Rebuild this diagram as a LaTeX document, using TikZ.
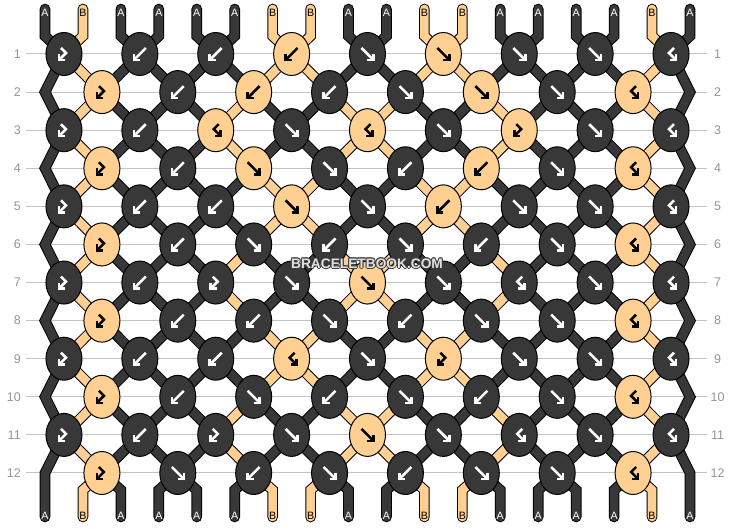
\documentclass[tikz,border=0pt]{standalone}
\usepackage{fontspec}
\setmainfont{Liberation Sans}
\usetikzlibrary{shapes.geometric}
\definecolor{colA}{RGB}{56,56,56}
\definecolor{colB}{RGB}{255,208,145}
\colorlet{arrA}{white}
\colorlet{arrB}{black}
\colorlet{labA}{white}
\colorlet{labB}{black}
\definecolor{gridc}{RGB}{195,195,195}
\definecolor{numc}{RGB}{150,150,150}
\definecolor{wmlight}{RGB}{225,225,225}
\definecolor{wmdark}{RGB}{60,60,60}
\def\stP{A,B,A,A,A,A,B,B,A,A,B,B,A,A,A,A,B,A}
\def\stQ{A,B,A,A,A,B,A,A,B,B,A,A,B,A,A,A,B,A}
\tikzset{
 strand/.style={draw=black, line width=0.75pt, double=#1, double distance=6.5pt, line cap=round, line join=miter},
 knot/.style={ellipse, draw=black, line width=0.75pt, minimum width=27pt, minimum height=32.25pt, inner sep=0pt},
 glyph/.style={line width=1.9pt, line cap=butt, line join=miter},
 rownum/.style={text=numc, font=\fontsize{9.4pt}{10pt}\selectfont, inner sep=0pt},
 strlab/.style={font=\fontsize{8pt}{9pt}\selectfont, inner sep=0pt},
 gridline/.style={draw=gridc, line width=0.75pt},
 wmtext/.style={font=\fontsize{10.3pt}{12pt}\selectfont\bfseries, inner sep=0pt}
}
\newcommand\kgF[1]{\draw[glyph,#1] (-6,-6) -- (5.5,5.5); \draw[glyph,#1] (0,6) -- (6,6) -- (6,0);}
\newcommand\kgB[1]{\draw[glyph,#1] (6,-6) -- (-5.5,5.5); \draw[glyph,#1] (0,6) -- (-6,6) -- (-6,0);}
\newcommand\kgFB[1]{\draw[glyph,#1] (-3,-6) -- (2,-1) -- (-5,6); \draw[glyph,#1] (-5,0) -- (-5,6) -- (1,6);}
\newcommand\kgBF[1]{\draw[glyph,#1] (3,-6) -- (-2,-1) -- (5,6); \draw[glyph,#1] (5,0) -- (5,6) -- (-1,6);}
\begin{document}
\begin{tikzpicture}[x=0.75pt,y=-0.75pt]
\fill[white] (0,0) rectangle (734,528);
\useasboundingbox (0,0) rectangle (734,528);
% string end coordinates
\foreach \p in {1,...,18}{
  \pgfmathsetmacro\xp{45+(\p-1)*37.94}
  \coordinate (t-\p) at (\xp,9);
  \coordinate (tb-\p) at (\xp,36);
  \coordinate (bb-\p) at (\xp,490);
  \coordinate (be-\p) at (\xp,517);
}
% rows
\foreach \r in {1,...,12}{
  \pgfmathsetmacro\yr{54+(\r-1)*38.09}
  \coordinate (eL-\r) at (45,\yr);
  \coordinate (eR-\r) at (690,\yr);
  \coordinate (gl-\r) at (26,\yr);
  \coordinate (gr-\r) at (707,\yr);
  \draw[gridline] (gl-\r) -- (gr-\r);
  \node[rownum, anchor=east] (nl-\r) at (21,\yr) {\r};
  \node[rownum] (nr-\r) at (717.5,\yr) {\r};
  \pgfmathtruncatemacro\odd{mod(\r,2)}
  \ifnum\odd=1
    \foreach \j in {1,...,9}{\pgfmathsetmacro\xj{45+(2*\j-1.5)*37.94}\coordinate (c-\r-\j) at (\xj,\yr);}
  \else
    \foreach \j in {1,...,8}{\pgfmathsetmacro\xj{45+(2*\j-0.5)*37.94}\coordinate (c-\r-\j) at (\xj,\yr);}
  \fi
}
% top strings
\foreach \c [count=\p] in \stP {
  \pgfmathtruncatemacro\j{ceil(\p/2)}
  \draw[strand=col\c] (t-\p) -- (tb-\p) -- (c-1-\j);
}
% strings between rows
\foreach \r in {1,...,11}{
  \pgfmathtruncatemacro\s{mod(floor(\r/2),2)}
  \pgfmathtruncatemacro\rn{\r+1}
  \pgfmathtruncatemacro\rnn{\r+2}
  \pgfmathtruncatemacro\odd{mod(\r,2)}
  \ifnum\s=0 \let\cur\stP \else \let\cur\stQ \fi
  \foreach \c [count=\p] in \cur {
    \ifnum\odd=1
      \ifnum\p=1
        \ifnum\r<11 \draw[strand=col\c] (c-\r-1) -- (eL-\rn) -- (c-\rnn-1);
        \else \draw[strand=col\c] (c-\r-1) -- (eL-\rn) -- (be-1); \fi
      \else\ifnum\p=18
        \ifnum\r<11 \draw[strand=col\c] (c-\r-9) -- (eR-\rn) -- (c-\rnn-9);
        \else \draw[strand=col\c] (c-\r-9) -- (eR-\rn) -- (be-18); \fi
      \else
        \pgfmathtruncatemacro\ja{ceil(\p/2)}
        \pgfmathtruncatemacro\jb{floor(\p/2)}
        \draw[strand=col\c] (c-\r-\ja) -- (c-\rn-\jb);
      \fi\fi
    \else
      \ifnum\p>1 \ifnum\p<18
        \pgfmathtruncatemacro\ja{floor(\p/2)}
        \pgfmathtruncatemacro\jb{ceil(\p/2)}
        \draw[strand=col\c] (c-\r-\ja) -- (c-\rn-\jb);
      \fi\fi
    \fi
  }
}
% bottom strings
\foreach \c [count=\p] in \stP {
  \ifnum\p>1 \ifnum\p<18
    \pgfmathtruncatemacro\j{floor(\p/2)}
    \draw[strand=col\c] (c-12-\j) -- (bb-\p) -- (be-\p);
  \fi\fi
}
% knots
\foreach \r/\j/\c/\t in {
1/1/A/FB,1/2/A/B,1/3/A/B,1/4/B/B,1/5/A/F,1/6/B/F,1/7/A/F,1/8/A/F,1/9/A/BF,
2/1/B/FB,2/2/A/B,2/3/B/B,2/4/A/B,2/5/A/F,2/6/B/F,2/7/A/F,2/8/B/BF,
3/1/A/FB,3/2/A/B,3/3/B/BF,3/4/A/F,3/5/B/BF,3/6/A/F,3/7/B/FB,3/8/A/F,3/9/A/BF,
4/1/B/FB,4/2/A/B,4/3/B/F,4/4/A/F,4/5/A/B,4/6/B/B,4/7/A/F,4/8/B/BF,
5/1/A/FB,5/2/A/B,5/3/A/B,5/4/B/F,5/5/A/F,5/6/B/B,5/7/A/F,5/8/A/F,5/9/A/BF,
6/1/B/FB,6/2/A/B,6/3/A/F,6/4/A/B,6/5/A/F,6/6/A/B,6/7/A/F,6/8/B/BF,
7/1/A/FB,7/2/A/B,7/3/A/FB,7/4/A/F,7/5/B/F,7/6/A/F,7/7/A/BF,7/8/A/F,7/9/A/BF,
8/1/B/FB,8/2/A/B,8/3/A/B,8/4/A/F,8/5/A/B,8/6/A/F,8/7/A/F,8/8/B/BF,
9/1/A/FB,9/2/A/B,9/3/A/B,9/4/B/BF,9/5/A/F,9/6/B/FB,9/7/A/F,9/8/A/F,9/9/A/BF,
10/1/B/FB,10/2/A/B,10/3/A/F,10/4/A/B,10/5/A/F,10/6/A/B,10/7/A/F,10/8/B/BF,
11/1/A/FB,11/2/A/B,11/3/A/FB,11/4/A/F,11/5/B/F,11/6/A/F,11/7/A/BF,11/8/A/F,11/9/A/BF,
12/1/B/FB,12/2/A/F,12/3/A/B,12/4/A/F,12/5/A/B,12/6/A/F,12/7/A/F,12/8/B/BF}{
  \node[knot, fill=col\c] (k-\r-\j) at (c-\r-\j) {};
  \begin{scope}[shift={(c-\r-\j)}]
    \csname kg\t\endcsname{arr\c}
  \end{scope}
}
% string labels
\foreach \c [count=\p] in \stP {
  \pgfmathsetmacro\xp{45+(\p-1)*37.94}
  \node[strlab, text=lab\c] (tl-\p) at (\xp,12.5) {\c};
  \node[strlab, text=lab\c] (bl-\p) at (\xp,516) {\c};
}
% watermark
\foreach \dx/\dy [count=\i] in {-1/0,1/0,0/-1,0/1,-0.7/-0.7,0.7/0.7,-0.7/0.7,0.7/-0.7}{
  \node[wmtext, text=wmdark] (wmo\i) at (367+\dx,263.5+\dy) {BRACELETBOOK.COM};
}
\node[wmtext, text=wmlight] (wm) at (367,263.5) {BRACELETBOOK.COM};
\end{tikzpicture}
\end{document}
